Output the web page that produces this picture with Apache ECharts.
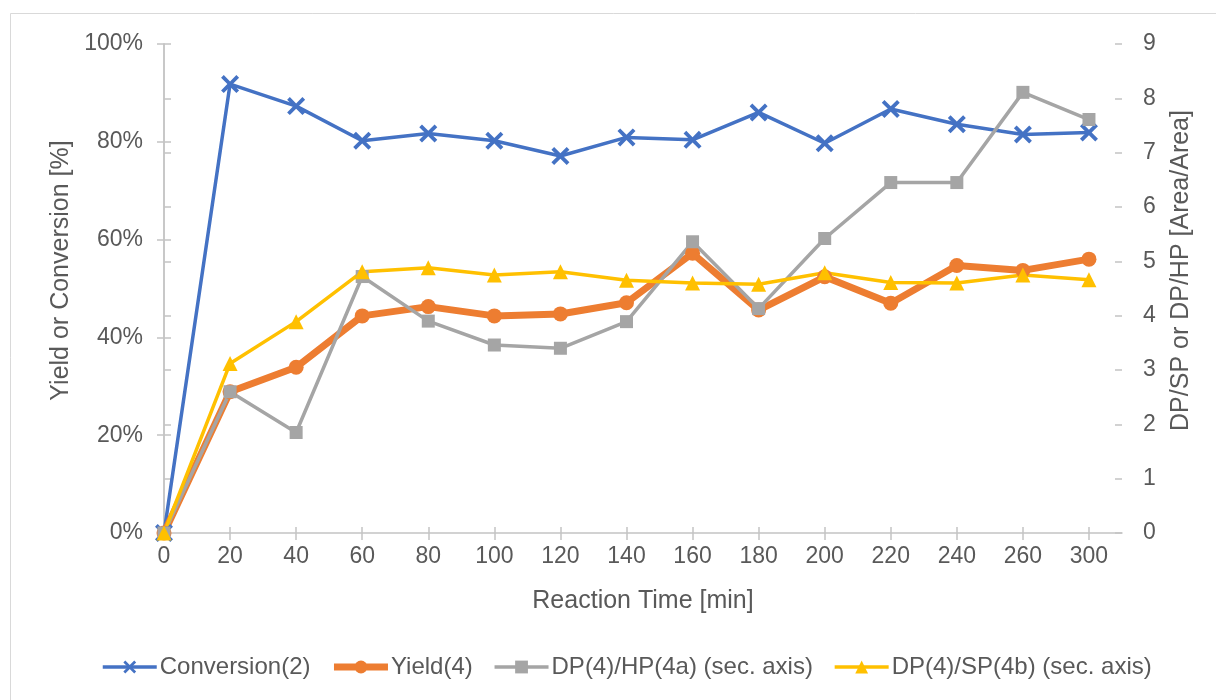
<!DOCTYPE html>
<html>
<head>
<meta charset="utf-8">
<script src="https://cdn.jsdelivr.net/npm/echarts@6/dist/echarts.min.js"></script>
<style>
  html, body { margin: 0; padding: 0; background: #ffffff; }
  #chart { width: 1216px; height: 700px; }
</style>
</head>
<body>
<div id="chart"></div>
<script>
// Reaction time points (minutes), drawn evenly spaced
const timeLabels = ['0', '20', '40', '60', '80', '100', '120', '140', '160', '180', '200', '220', '240', '260', '300'];

// Primary axis, percent
const conversion = [0, 91.8, 87.3, 80.2, 81.7, 80.2, 77.1, 80.9, 80.4, 86.0, 79.7, 86.7, 83.6, 81.5, 81.9];
const yieldPct   = [0, 28.9, 33.9, 44.4, 46.3, 44.4, 44.8, 47.1, 57.2, 45.6, 52.4, 47.0, 54.7, 53.7, 56.0];

// Secondary axis, area ratios
const dpHp = [0, 2.60, 1.85, 4.72, 3.90, 3.46, 3.40, 3.89, 5.36, 4.13, 5.42, 6.45, 6.45, 8.11, 7.61];
const dpSp = [0, 3.12, 3.89, 4.81, 4.88, 4.75, 4.81, 4.65, 4.60, 4.58, 4.79, 4.61, 4.60, 4.75, 4.66];

const seriesNames = ['Conversion(2)', 'Yield(4)', 'DP(4)/HP(4a) (sec. axis)', 'DP(4)/SP(4b) (sec. axis)'];
const seriesColors = ['#4472c4', '#ed7d31', '#a5a5a5', '#ffc000'];
const lineWidths = [3.5, 7, 3.5, 3.5];

const tickIdx = timeLabels.map((_, i) => i);
const toPairs = arr => arr.map((v, i) => [i, v]);

const FONT = "'Liberation Sans', Arial, sans-serif";
const TXT = '#595959';
const AXIS = '#c4c4c4';

// "x" marker drawn as a filled cross outline
const crossPath = 'path://M1.5,0 L5,3.5 L8.5,0 L10,1.5 L6.5,5 L10,8.5 L8.5,10 L5,6.5 L1.5,10 L0,8.5 L3.5,5 L0,1.5 Z';

const xMax = 14.5;

const chart = echarts.init(document.getElementById('chart'));

const baseX = {
  type: 'value', min: 0, max: xMax,
  splitLine: { show: false }
};

chart.setOption({
  backgroundColor: '#ffffff',
  animation: false,
  textStyle: { fontFamily: FONT },
  graphic: [{
    type: 'rect',
    shape: { x: 10.5, y: 13.5, width: 1230, height: 720 },
    style: { fill: 'none', stroke: '#d9d9d9', lineWidth: 1 },
    silent: true
  }],
  grid: { left: 164, right: 94, top: 44, bottom: 167 },
  legend: {
    bottom: 16,
    left: 96,
    itemWidth: 54,
    itemHeight: 16,
    itemGap: 20,
    textStyle: { fontFamily: FONT, fontSize: 24, color: TXT, padding: [0, 0, 0, -2] },
    data: seriesNames.map((n, i) => ({
      name: n,
      lineStyle: { width: lineWidths[i], color: seriesColors[i] }
    }))
  },
  xAxis: [
    Object.assign({}, baseX, {
      name: 'Reaction Time [min]',
      nameLocation: 'middle',
      nameGap: 56,
      nameTextStyle: { fontFamily: FONT, fontSize: 25, color: TXT },
      axisLine: { show: true, lineStyle: { color: AXIS, width: 1.5 } },
      axisTick: { show: true, length: 7, customValues: tickIdx, lineStyle: { color: AXIS, width: 1.5 } },
      axisLabel: {
        customValues: tickIdx, margin: 12,
        fontFamily: FONT, fontSize: 23, color: TXT,
        formatter: v => timeLabels[Math.round(v)]
      }
    }),
    Object.assign({}, baseX, {
      position: 'bottom',
      axisLine: { show: false },
      axisTick: { show: true, inside: true, length: 6, customValues: tickIdx, lineStyle: { color: AXIS, width: 1.5 } },
      axisLabel: { show: false }
    })
  ],
  yAxis: [
    {
      type: 'value', min: 0, max: 100, interval: 20, position: 'left',
      name: 'Yield or Conversion [%]',
      nameLocation: 'middle', nameGap: 88,
      nameTextStyle: { fontFamily: FONT, fontSize: 25, color: TXT, padding: [0, 0, 0, 36] },
      axisLine: { show: true, lineStyle: { color: AXIS, width: 1.5 } },
      axisTick: { show: true, length: 7, lineStyle: { color: AXIS, width: 1.5 } },
      axisLabel: { margin: 21, fontFamily: FONT, fontSize: 23, color: TXT, formatter: '{value}%' },
      splitLine: { show: false }
    },
    {
      type: 'value', min: 0, max: 9, interval: 1, position: 'right',
      name: 'DP/SP or DP/HP [Area/Area]',
      nameLocation: 'middle', nameGap: 47,
      nameTextStyle: { fontFamily: FONT, fontSize: 25, color: TXT, padding: [0, 0, 0, 36] },
      axisLine: { show: true, lineStyle: { color: AXIS, width: 1.5 } },
      axisTick: { show: true, length: 7, lineStyle: { color: AXIS, width: 1.5 } },
      axisLabel: { margin: 21, fontFamily: FONT, fontSize: 23, color: TXT },
      splitLine: { show: false }
    },
    {
      type: 'value', min: 0, max: 100, interval: 20, position: 'left',
      axisLine: { show: false },
      axisTick: { show: true, inside: true, length: 7, lineStyle: { color: AXIS, width: 1.5 } },
      axisLabel: { show: false }, splitLine: { show: false }
    },
    {
      type: 'value', min: 0, max: 9, interval: 1, position: 'right',
      axisLine: { show: false },
      axisTick: { show: true, inside: true, length: 7, lineStyle: { color: AXIS, width: 1.5 } },
      axisLabel: { show: false }, splitLine: { show: false }
    }
  ],
  series: [
    {
      name: seriesNames[0], type: 'line', xAxisIndex: 0, yAxisIndex: 0,
      data: toPairs(conversion),
      symbol: crossPath, symbolSize: 18,
      lineStyle: { color: seriesColors[0], width: lineWidths[0] },
      itemStyle: { color: seriesColors[0] }
    },
    {
      name: seriesNames[1], type: 'line', xAxisIndex: 0, yAxisIndex: 0,
      data: toPairs(yieldPct),
      symbol: 'circle', symbolSize: 15,
      lineStyle: { color: seriesColors[1], width: lineWidths[1] },
      itemStyle: { color: seriesColors[1] }
    },
    {
      name: seriesNames[2], type: 'line', xAxisIndex: 0, yAxisIndex: 1,
      data: toPairs(dpHp),
      symbol: 'rect', symbolSize: 13,
      lineStyle: { color: seriesColors[2], width: lineWidths[2] },
      itemStyle: { color: seriesColors[2] }
    },
    {
      name: seriesNames[3], type: 'line', xAxisIndex: 0, yAxisIndex: 1,
      data: toPairs(dpSp),
      symbol: 'triangle', symbolSize: 15,
      lineStyle: { color: seriesColors[3], width: lineWidths[3] },
      itemStyle: { color: seriesColors[3] }
    }
  ]
});
</script>
</body>
</html>
